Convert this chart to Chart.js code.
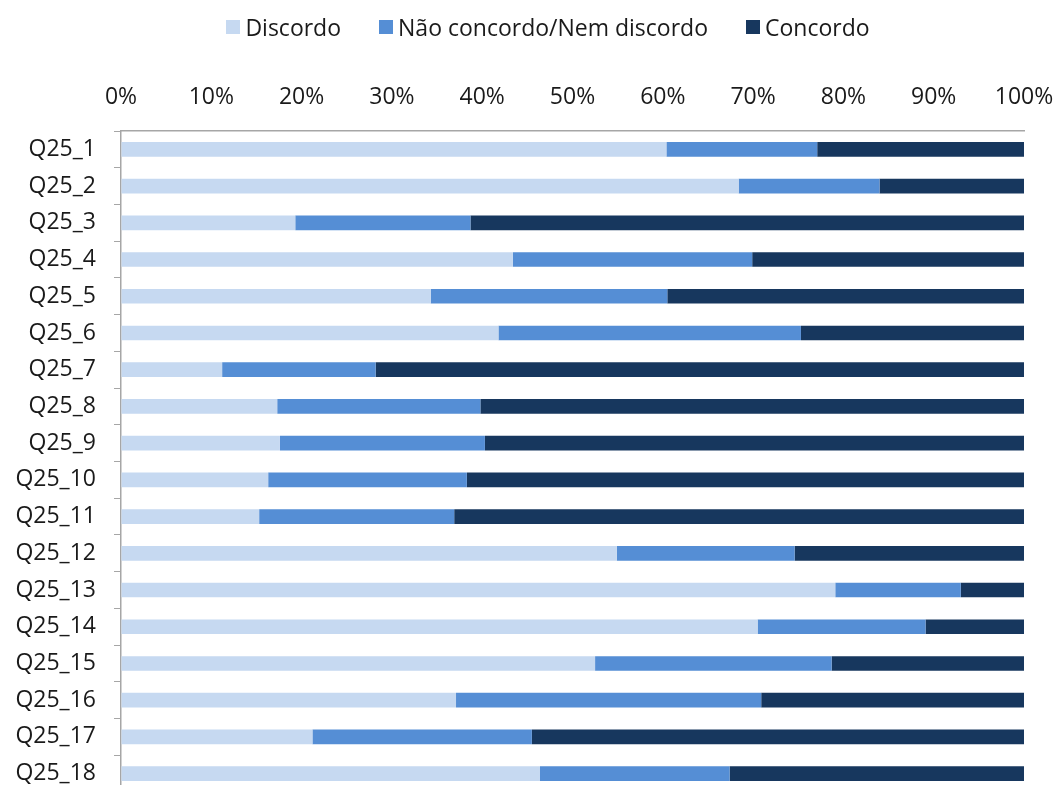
<!DOCTYPE html>
<html>
<head>
<meta charset="utf-8">
<script src="https://cdn.jsdelivr.net/npm/chart.js@4"></script>
<style>
    html, body { margin: 0; padding: 0; background: #fff; overflow: hidden; }
    body { width: 1058px; height: 785px; position: relative; font-family: "Open Sans", sans-serif; }
    #legend {
        position: absolute; left: 38px; right: 0; top: 10px; height: 34px;
        display: flex; justify-content: center; align-items: center;
        font-size: 23px; color: #1a1a1a; white-space: nowrap;
    }
    #legend .item { display: flex; align-items: center; margin: 0 19px; }
    #legend .box { width: 14px; height: 14px; margin-right: 5px; }
    #chartWrap { position: absolute; left: 0; top: 0; width: 1058px; height: 792px; }
</style>
</head>
<body>
<div id="chartWrap"><canvas id="surveyChart" width="1058" height="792"></canvas></div>
<div id="legend"></div>
<script>
const questions = ['Q25_1', 'Q25_2', 'Q25_3', 'Q25_4', 'Q25_5', 'Q25_6', 'Q25_7', 'Q25_8', 'Q25_9',
    'Q25_10', 'Q25_11', 'Q25_12', 'Q25_13', 'Q25_14', 'Q25_15', 'Q25_16', 'Q25_17', 'Q25_18'];
const seriesNames = ['Discordo', 'Não concordo/Nem discordo', 'Concordo'];
const discordo = [60.4, 68.4, 19.3, 43.4, 34.3, 41.8, 11.2, 17.3, 17.6, 16.3, 15.3, 54.9, 79.1, 70.5, 52.5, 37.1, 21.2, 46.4];
const neutro   = [16.7, 15.6, 19.4, 26.5, 26.2, 33.5, 17.0, 22.5, 22.7, 22.0, 21.6, 19.7, 13.9, 18.6, 26.2, 33.8, 24.3, 21.0];
const concordo = [22.9, 16.0, 61.3, 30.1, 39.5, 24.7, 71.8, 60.2, 59.7, 61.7, 63.1, 25.4, 7.0, 10.9, 21.3, 29.1, 54.5, 32.6];
const xTicks = [0, 10, 20, 30, 40, 50, 60, 70, 80, 90, 100];

const colors = ['#c6d9f1', '#558ed5', '#17375e'];
const axisColor = '#a6a6a6';
const labelFont = { family: '"Open Sans", sans-serif', size: 23 };

function makeSet(i, values) {
    return {
        label: seriesNames[i],
        data: values,
        backgroundColor: colors[i],
        borderWidth: 0,
        barPercentage: 0.4,
        categoryPercentage: 1.0,
        stack: 'q25'
    };
}

const chart = new Chart(document.getElementById('surveyChart'), {
    type: 'bar',
    data: {
        labels: questions,
        datasets: [makeSet(0, discordo), makeSet(1, neutro), makeSet(2, concordo)]
    },
    options: {
        indexAxis: 'y',
        responsive: false,
        animation: false,
        layout: { padding: { top: 83, right: 34, left: 0, bottom: 0 } },
        plugins: {
            legend: { display: false },
            tooltip: { enabled: false }
        },
        scales: {
            x: {
                position: 'top',
                stacked: true,
                min: 0,
                max: 100,
                afterBuildTicks: function (scale) {
                    scale.ticks = xTicks.map(function (v) { return { value: v }; });
                },
                afterFit: function (scale) {
                    // fixed band above the plot, no extra room for the end labels
                    scale.height = 48;
                    scale.paddingLeft = 0;
                    scale.paddingRight = 0;
                },
                ticks: {
                    color: '#1a1a1a',
                    font: labelFont,
                    padding: 20,
                    maxRotation: 0,
                    callback: function (v) { return v + '%'; }
                },
                grid: { drawOnChartArea: false, drawTicks: false },
                border: { color: axisColor, width: 1.5 }
            },
            y: {
                stacked: true,
                afterFit: function (scale) {
                    scale.width = 121;
                    scale.paddingTop = 0;
                    scale.paddingBottom = 0;
                },
                ticks: { color: '#1a1a1a', font: labelFont, padding: 18 },
                grid: { offset: true, drawOnChartArea: false, tickLength: 7, color: axisColor },
                border: { color: axisColor, width: 1.5 }
            }
        }
    }
});

// legend built from the chart's own datasets
const legendEl = document.getElementById('legend');
chart.data.datasets.forEach(function (ds) {
    const item = document.createElement('span');
    item.className = 'item';
    const box = document.createElement('span');
    box.className = 'box';
    box.style.background = ds.backgroundColor;
    const text = document.createElement('span');
    text.textContent = ds.label;
    item.appendChild(box);
    item.appendChild(text);
    legendEl.appendChild(item);
});
</script>
</body>
</html>
